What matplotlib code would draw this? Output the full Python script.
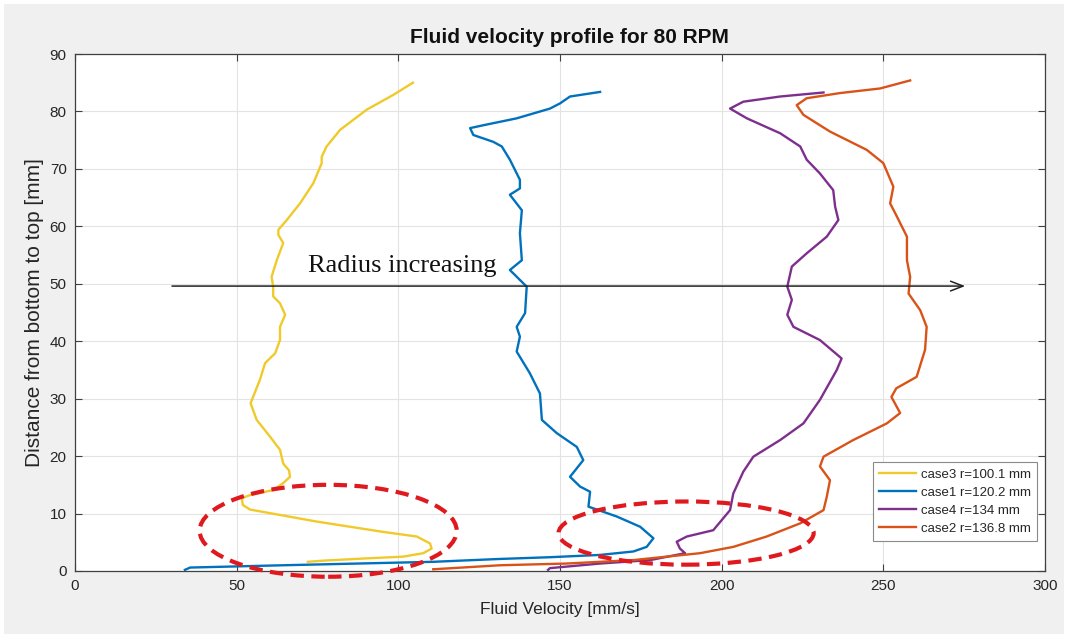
import matplotlib
matplotlib.use("Agg")
import matplotlib.pyplot as plt
from matplotlib.patches import Ellipse, Rectangle
from matplotlib import font_manager

# ---- data: velocity [mm/s] vs. height above the bottom [mm] ----
case3_v = [72, 76.8, 90.2, 101.5, 107.7, 110.3, 109.8, 105.7, 95.4, 74.8, 54.1, 51.9,
           51.6, 54.1, 61.3, 64.4, 66.5, 66.2, 64.4, 63.4, 60.3, 56.2, 54.3, 57.2, 58.8,
           61.9, 63.4, 63.4, 65.0, 63.4, 61.3, 61.3, 60.8, 62.4, 64.4, 62.9, 62.9, 65.5,
           69.6, 73.7, 76.3, 76.3, 77.8, 82.0, 90.2, 98.5, 104.5]
case3_d = [1.6, 1.8, 2.2, 2.5, 3.1, 3.9, 4.8, 6.0, 6.8, 8.6, 10.7, 11.5,
           12.7, 13.2, 14.1, 15.3, 16.4, 17.5, 18.7, 21.1, 23.4, 26.3, 29.2, 33.3, 36.2,
           37.9, 40.2, 42.5, 44.6, 46.6, 47.8, 49.5, 51.2, 54.1, 57.1, 58.5, 59.4, 61.1,
           64.0, 67.5, 71.0, 72.1, 73.9, 76.8, 80.3, 82.9, 85.0]

case1_v = [34, 35.6, 64.4, 110.8, 131.5, 146.9, 162.4, 172.7, 176.8, 178.9, 174.8, 167.5,
           158.8, 159.3, 156.2, 153.1, 157.2, 155.2, 149.0, 144.4, 143.8, 140.7, 136.6,
           137.6, 136.6, 139.2, 139.7, 134.5, 138.2, 137.6, 138.2, 134.5, 137.6, 137.6,
           134.5, 132.0, 129.4, 123.2, 122.2, 126.3, 136.6, 146.9, 150.0, 153.1, 162.4]
case1_d = [0.2, 0.6, 1.0, 1.6, 2.1, 2.4, 2.8, 3.4, 4.2, 5.7, 7.7, 9.5,
           11.2, 13.8, 14.7, 16.4, 19.3, 21.6, 24.0, 26.3, 30.9, 34.4, 38.2,
           40.8, 42.5, 44.9, 49.5, 52.4, 54.1, 58.8, 62.8, 65.5, 66.6, 68.1,
           71.6, 73.9, 74.7, 75.9, 77.1, 77.6, 78.8, 80.5, 81.4, 82.6, 83.4]

case4_v = [146.3, 146.9, 162.4, 177.9, 188.7, 187.1, 186.1, 189.2, 197.4, 202.6, 203.6,
           206.7, 209.8, 218.1, 225.3, 230.4, 235.6, 237.1, 230.4, 222.2, 220.3, 221.7,
           220.3, 221.7, 226.3, 232.5, 236.1, 235.1, 234.5, 230.4, 226.3, 224.3, 218.1,
           207.8, 202.6, 206.7, 218.1, 231.5]
case4_d = [0.2, 0.5, 1.3, 1.9, 3.1, 3.9, 5.1, 6.0, 7.1, 10.6, 13.5,
           17.3, 19.9, 22.8, 25.7, 29.8, 35.0, 37.0, 40.2, 42.5, 44.6, 47.2,
           49.5, 53.0, 55.3, 58.2, 61.1, 63.4, 66.3, 69.2, 71.6, 73.9, 76.2,
           78.8, 80.5, 81.7, 82.6, 83.3]

case2_v = [110.8, 131.5, 152.1, 172.7, 193.3, 203.6, 213.9, 224.3, 231.5, 232.5, 233.5,
           230.4, 231.5, 240.7, 251.1, 255.2, 252.5, 254.0, 260.3, 262.9, 263.4, 261.4,
           257.8, 258.3, 257.3, 257.3, 254.2, 252.1, 253.1, 250.0, 244.9, 233.5, 225.3,
           223.2, 226.3, 236.6, 249.0, 258.3]
case2_d = [0.3, 1.0, 1.3, 1.9, 3.1, 4.2, 6.0, 8.3, 10.6, 12.9, 15.8,
           18.2, 19.9, 22.8, 25.7, 27.5, 30.3, 31.8, 33.8, 38.5, 42.5, 45.4,
           48.3, 51.2, 54.1, 58.2, 61.7, 64.0, 66.9, 71.0, 73.3, 76.5, 79.4,
           81.1, 82.3, 83.2, 84.0, 85.4]

labels = ["case3 r=100.1 mm", "case1 r=120.2 mm", "case4 r=134 mm", "case2 r=136.8 mm"]
colors = ["#F0CA2A", "#0072BD", "#7E2F8E", "#D95319"]

x_ticks = [0, 50, 100, 150, 200, 250, 300]
y_ticks = [0, 10, 20, 30, 40, 50, 60, 70, 80, 90]

# ---- fonts ----
available = {f.name for f in font_manager.fontManager.ttflist}
sans = "Liberation Sans Narrow" if "Liberation Sans Narrow" in available else "Liberation Sans"
plt.rcParams["font.family"] = [sans, "DejaVu Sans"]

W, H = 1067, 634
fig = plt.figure(figsize=(W / 100, H / 100), dpi=100, facecolor="white")
fig.patches.append(Rectangle((4 / W, 0), (W - 7) / W, (H - 4) / H,
                             transform=fig.transFigure, facecolor="#f0f0f0",
                             edgecolor="none", zorder=-10))

ax = fig.add_axes([75 / W, 63 / H, 970 / W, 517 / H])
ax.set_facecolor("white")

series = [(case3_v, case3_d), (case1_v, case1_d), (case4_v, case4_d), (case2_v, case2_d)]
for (v, d), lab, c in zip(series, labels, colors):
    ax.plot(v, d, color=c, lw=1.7, label=lab, solid_joinstyle="round")

ax.set_xlim(0, 300)
ax.set_ylim(0, 90)
ax.set_xticks(x_ticks)
ax.set_yticks(y_ticks)
ax.grid(True, color="#e3e3e3", lw=0.8)
ax.set_axisbelow(True)
ax.tick_params(direction="in", length=5, width=0.8, color="#404040",
               top=True, right=True, labelsize=11, labelcolor="#262626", pad=6)
for s in ax.spines.values():
    s.set_color("#404040")
    s.set_linewidth(0.9)

ax.set_title("Fluid velocity profile for 80 RPM", fontsize=15, fontweight="bold",
             color="#111111", pad=8, x=0.51)
ax.set_xlabel("Fluid Velocity [mm/s]", fontsize=12.5, color="#262626", labelpad=6)
ax.set_ylabel("Distance from bottom to top [mm]", fontsize=15, color="#262626", labelpad=4)

leg = ax.legend(loc="lower right", bbox_to_anchor=(0.992, 0.058), borderaxespad=0,
                fontsize=9.5, handlelength=2.8, handletextpad=0.4, labelspacing=0.45,
                borderpad=0.45, fancybox=False, framealpha=1, edgecolor="#8a8a8a")
leg.get_frame().set_linewidth(0.8)
for t in leg.get_texts():
    t.set_color("#262626")

# highlighted near-bottom regions
for cx, cy, w, h in [(78.3, 7.0, 79.5, 16.0), (189.0, 6.6, 78.9, 11.0)]:
    ax.add_patch(Ellipse((cx, cy), w, h, fill=False, edgecolor="#e0191e", lw=3,
                         linestyle=(0, (3.2, 1.8)), clip_on=False, zorder=5))

# radius direction arrow
ax.annotate("", xy=(275.3, 49.6), xytext=(30, 49.6),
            arrowprops=dict(arrowstyle="->,head_length=0.9,head_width=0.35",
                            color="#222222", lw=1.1, shrinkA=0, shrinkB=0), zorder=4)
ax.text(72, 52.1, "Radius increasing", fontsize=19, family=["Liberation Serif", "DejaVu Serif"],
        color="#111111", ha="left", va="baseline", zorder=4)

fig.savefig("out.png", dpi=100, facecolor=fig.get_facecolor())
